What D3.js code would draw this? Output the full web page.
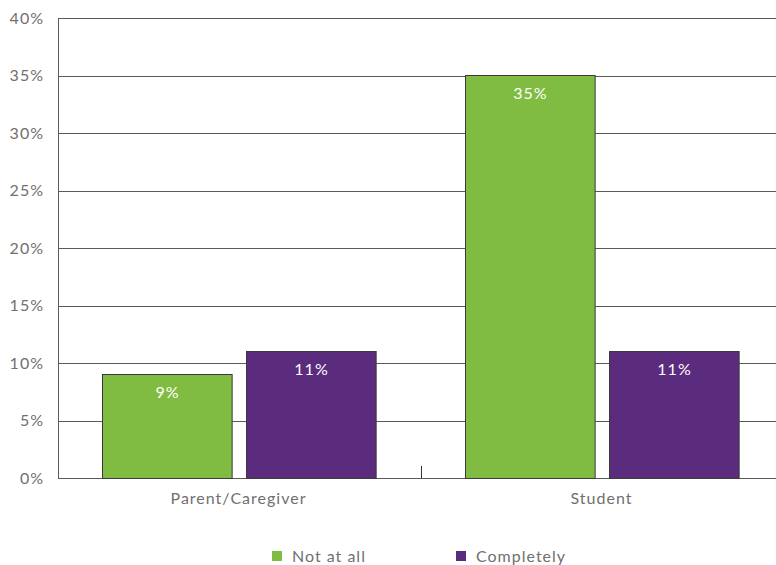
<!DOCTYPE html>
<html>
<head>
<meta charset="utf-8">
<script src="https://cdn.jsdelivr.net/npm/d3@7"></script>
<style>
  html, body { margin: 0; padding: 0; background: #fff; }
  svg { display: block; }
  text { font-family: Lato, "Open Sans", sans-serif; letter-spacing: 1px; }
</style>
</head>
<body>
<svg id="chart" width="776" height="565"></svg>
<script>
const categories = ["Parent/Caregiver", "Student"];
const seriesNames = ["Not at all", "Completely"];
const notAtAll = [9, 35];
const completely = [11, 11];
const yTicks = [0, 5, 10, 15, 20, 25, 30, 35, 40];
const colors = ["#7fbc41", "#5b2c7e"];

const svg = d3.select("#chart");
const margin = { left: 58, top: 18, right: -8, bottom: 87 };
const W = 776, H = 565;
const innerW = W - margin.left - margin.right;
const innerH = H - margin.top - margin.bottom;

const g = svg.append("g").attr("transform", `translate(${margin.left},${margin.top})`);

const x0 = d3.scaleBand().domain(categories).range([0, innerW]).paddingInner(0).paddingOuter(0);
const x1 = d3.scaleBand().domain(seriesNames).range([0, x0.bandwidth()]).paddingInner(0.1).paddingOuter(0.31);
const y = d3.scaleLinear().domain([0, 40]).range([innerH, 0]);

// horizontal gridlines
g.append("g").selectAll("line").data(yTicks).join("line")
  .attr("x1", 0).attr("x2", innerW)
  .attr("y1", d => Math.round(y(d)) + 0.5).attr("y2", d => Math.round(y(d)) + 0.5)
  .attr("stroke", "#5a5a5a").attr("stroke-width", 1);

// y-axis labels
const yAxis = d3.axisLeft(y).tickValues(yTicks).tickFormat(d => d + "%").tickSize(0).tickPadding(14);
const yg = g.append("g").call(yAxis);
yg.select(".domain").remove();
yg.selectAll("text").attr("fill", "#707070").style("font-size", "16px")
  .style("font-family", "Lato, sans-serif");

// vertical axis line
g.append("line").attr("x1", 0.5).attr("x2", 0.5).attr("y1", 0).attr("y2", innerH)
  .attr("stroke", "#5a5a5a");

// category divider tick
g.append("g").selectAll("line").data(categories.slice(1)).join("line")
  .attr("x1", d => Math.round(x0(d)) + 0.5).attr("x2", d => Math.round(x0(d)) + 0.5)
  .attr("y1", innerH - 12).attr("y2", innerH)
  .attr("stroke", "#333");

// bars
const rows = categories.map((c, i) => ({ cat: c, vals: [notAtAll[i], completely[i]] }));
const groups = g.append("g").selectAll("g").data(rows).join("g")
  .attr("transform", d => `translate(${x0(d.cat)},0)`);

groups.selectAll("rect").data(d => d.vals.map((v, j) => ({ v, s: seriesNames[j], j }))).join("rect")
  .attr("x", d => Math.round(x1(d.s)) - 0.5)
  .attr("width", x1.bandwidth())
  .attr("y", d => Math.round(y(d.v)) - 0.5)
  .attr("height", d => innerH - Math.round(y(d.v)) + 1)
  .attr("fill", d => colors[d.j])
  .attr("stroke", "#3a3a3a").attr("stroke-width", 1);

groups.selectAll("text.val").data(d => d.vals.map((v, j) => ({ v, s: seriesNames[j], j }))).join("text")
  .attr("class", "val")
  .attr("x", d => x1(d.s) + x1.bandwidth() / 2)
  .attr("y", d => y(d.v) + 23)
  .attr("text-anchor", "middle")
  .attr("fill", "#ffffff")
  .style("font-size", "16px")
  .text(d => d.v + "%");

// category labels
g.append("g").selectAll("text").data(categories).join("text")
  .attr("x", d => x0(d) + x0.bandwidth() / 2 - 1)
  .attr("y", innerH + 26)
  .attr("text-anchor", "middle")
  .attr("fill", "#707070")
  .style("font-size", "16px")
  .text(d => d);

// legend
const legendX = [272, 456];
const leg = svg.append("g").selectAll("g").data(seriesNames).join("g")
  .attr("transform", (d, i) => `translate(${legendX[i]},551)`);
leg.append("rect").attr("width", 10).attr("height", 10).attr("fill", (d, i) => colors[i]);
leg.append("text").attr("x", 20).attr("y", 10.5)
  .attr("fill", "#707070").style("font-size", "16px").text(d => d);
</script>
</body>
</html>
